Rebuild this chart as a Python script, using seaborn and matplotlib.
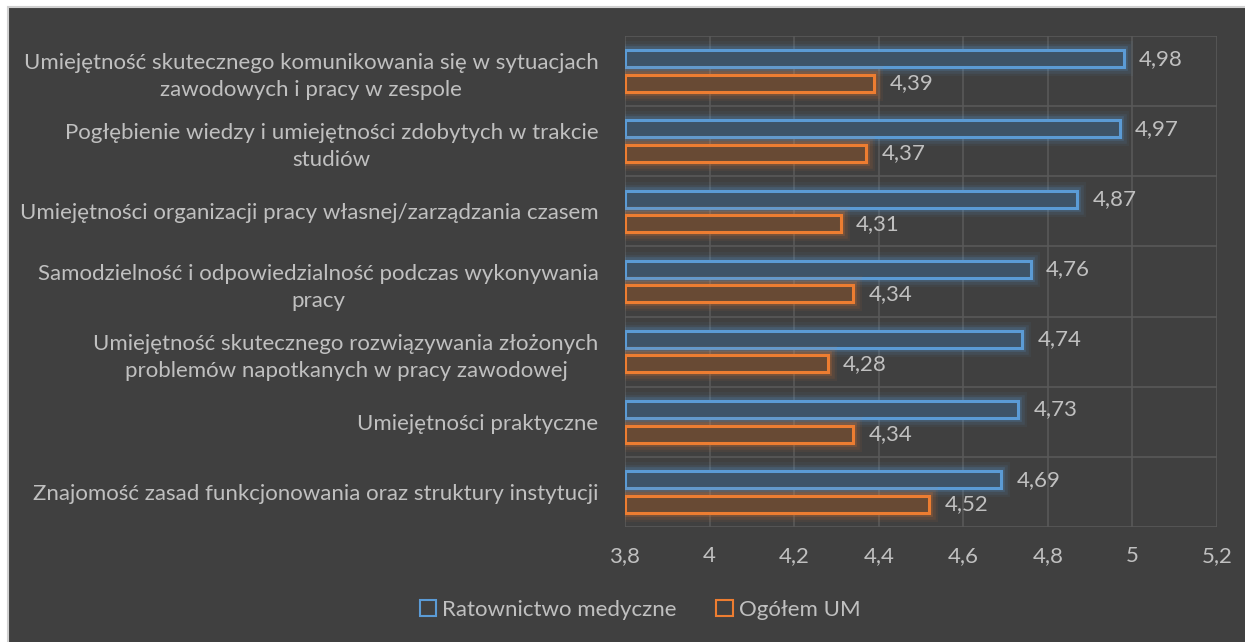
import matplotlib
matplotlib.use("Agg")
import matplotlib.pyplot as plt
import matplotlib.patheffects as pe
from matplotlib.patches import Patch, Rectangle
import seaborn as sns
import pandas as pd

categories = [
    "Umiejętność skutecznego komunikowania się w sytuacjach\nzawodowych i pracy w zespole",
    "Pogłębienie wiedzy i umiejętności zdobytych w trakcie\nstudiów",
    "Umiejętności organizacji pracy własnej/zarządzania czasem",
    "Samodzielność i odpowiedzialność podczas wykonywania\npracy",
    "Umiejętność skutecznego rozwiązywania złożonych\nproblemów napotkanych w pracy zawodowej",
    "Umiejętności praktyczne",
    "Znajomość zasad funkcjonowania oraz struktury instytucji",
]
series_names = ["Ratownictwo medyczne", "Ogółem UM"]
ratownictwo = [4.98, 4.97, 4.87, 4.76, 4.74, 4.73, 4.69]
ogolem = [4.39, 4.37, 4.31, 4.34, 4.28, 4.34, 4.52]
x_ticks = [3.8, 4.0, 4.2, 4.4, 4.6, 4.8, 5.0, 5.2]
x_tick_labels = ["3,8", "4", "4,2", "4,4", "4,6", "4,8", "5", "5,2"]

BG = "#404040"
TEXT = "#c0c0c0"
GRID = "#595959"
EDGE = {"Ratownictwo medyczne": "#5b9bd5", "Ogółem UM": "#ed7d31"}
FILL = {"Ratownictwo medyczne": "#3e5468", "Ogółem UM": "#684a34"}
FS = 16

sns.set_theme(style="dark")
plt.rcParams["font.family"] = ["Lato", "DejaVu Sans"]

df = pd.DataFrame({
    "kategoria": categories * 2,
    "seria": [series_names[0]] * len(categories) + [series_names[1]] * len(categories),
    "wartosc": ratownictwo + ogolem,
})

fig = plt.figure(figsize=(12.45, 6.42), dpi=100, facecolor="white")
# dark chart area with a thin light frame on the top and left
fig.patches.append(Rectangle((8 / 1245, -0.05), 1.1, 1.05 - 7 / 642,
                             transform=fig.transFigure, facecolor=BG,
                             edgecolor="#d0d0d0", linewidth=1.5, zorder=-10))
ax = fig.add_axes([625 / 1245, 1 - 527 / 642, (1217 - 625) / 1245, (527 - 36) / 642])
ax.set_facecolor(BG)

sns.barplot(data=df, y="kategoria", x="wartosc", hue="seria", orient="h",
            order=categories, hue_order=series_names, width=0.70, gap=0.31,
            palette=[EDGE[s] for s in series_names], ax=ax, legend=False,
            errorbar=None)

x_min, x_max = x_ticks[0], x_ticks[-1]
for container, name in zip(ax.containers, series_names):
    for bar in container:
        end = bar.get_x() + bar.get_width()
        bar.set_x(x_min)
        bar.set_width(end - x_min)
        bar.set_facecolor(FILL[name])
        bar.set_edgecolor(EDGE[name])
        bar.set_linewidth(2.2)
        bar.set_zorder(3)
        # soft glow around each bar
        bar.set_path_effects([
            pe.Stroke(linewidth=13, foreground=EDGE[name], alpha=0.06),
            pe.Stroke(linewidth=9, foreground=EDGE[name], alpha=0.10),
            pe.Stroke(linewidth=5.5, foreground=EDGE[name], alpha=0.20),
            pe.Normal(),
        ])
    labels = [f"{v:.2f}".replace(".", ",") for v in container.datavalues]
    ax.bar_label(container, labels=labels, padding=11, color=TEXT, fontsize=FS)

ax.set_xlim(x_min, x_max)
ax.set_ylim(len(categories) - 0.5, -0.5)
ax.set_xticks(x_ticks)
ax.set_xticklabels(x_tick_labels)
ax.tick_params(axis="x", colors=TEXT, labelsize=FS, length=0, pad=14)
ax.tick_params(axis="y", colors=TEXT, labelsize=FS, length=0, pad=19)
for lbl in ax.get_yticklabels():
    lbl.set_multialignment("center")
    lbl.set_linespacing(1.45)
ax.set_xlabel("")
ax.set_ylabel("")
for s in ax.spines.values():
    s.set_visible(False)

for xv in x_ticks:
    ax.axvline(xv, color=GRID, linewidth=1.2, zorder=1)
for k in range(len(categories) + 1):
    ax.axhline(k - 0.5, color=GRID, linewidth=1.2, zorder=1)
ax.grid(False)

handles = [Patch(facecolor="none", edgecolor=EDGE[s], linewidth=1.5, label=s)
           for s in series_names]
fig.legend(handles=handles, loc="center", bbox_to_anchor=(640 / 1245, 1 - 610 / 642),
           ncol=2, frameon=False, fontsize=FS, labelcolor=TEXT,
           handlelength=0.75, handleheight=0.75, handletextpad=0.25, columnspacing=1.8)

fig.savefig("out.png", dpi=100, facecolor=fig.get_facecolor())
